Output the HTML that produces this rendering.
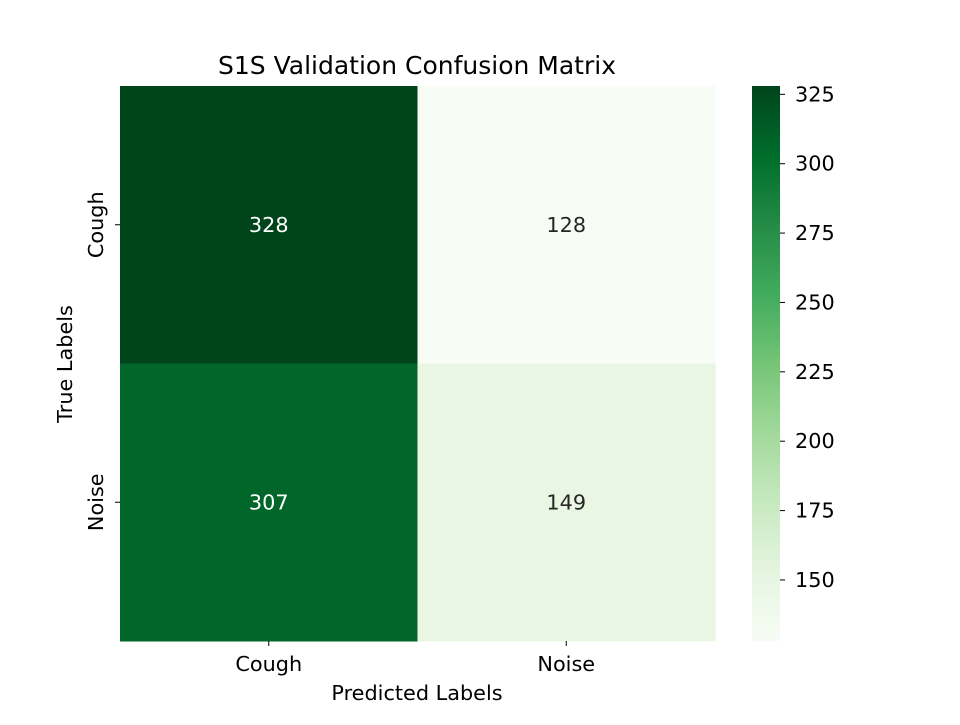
<!DOCTYPE html>
<html><head><meta charset="utf-8"><style>
body{margin:0;background:#fff;font-family:"Liberation Sans","DejaVu Sans",sans-serif;}
svg text{font-family:"DejaVu Sans","Liberation Sans",sans-serif;}
</style></head><body>
<svg id="chart" width="960" height="720" xmlns="http://www.w3.org/2000/svg">
<defs><linearGradient id="cg" x1="0" y1="1" x2="0" y2="0">
<stop offset="0" stop-color="#f7fcf5"/><stop offset="0.125" stop-color="#e5f5e0"/><stop offset="0.25" stop-color="#c7e9c0"/><stop offset="0.375" stop-color="#a1d99b"/><stop offset="0.5" stop-color="#74c476"/><stop offset="0.625" stop-color="#41ab5d"/><stop offset="0.75" stop-color="#238b45"/><stop offset="0.875" stop-color="#006d2c"/><stop offset="1" stop-color="#00441b"/>
</linearGradient></defs>
<text x="417" y="74" font-size="25" text-anchor="middle" fill="#000">S1S Validation Confusion Matrix</text>
<g id="cells"></g>
<rect x="752" y="86" width="28" height="555" fill="url(#cg)"/>
<g id="axes"></g>
<text x="417" y="700" font-size="20.8" text-anchor="middle">Predicted Labels</text>
<text transform="translate(72,364) rotate(-90)" font-size="20.8" text-anchor="middle">True Labels</text>
</svg>
<script>
const predLabels=["Cough","Noise"];
const trueLabels=["Cough","Noise"];
const values=[[328,128],[307,149]];
const cbTicks=[150,175,200,225,250,275,300,325];
const NS="http://www.w3.org/2000/svg";
const vmin=Math.min(...values.flat()),vmax=Math.max(...values.flat());
const X0=120,X1=715,Y0=86,Y1=641,CB0=641,CB1=86;
const stops=["#f7fcf5","#e5f5e0","#c7e9c0","#a1d99b","#74c476","#41ab5d","#238b45","#006d2c","#00441b"].map(h=>[1,3,5].map(i=>parseInt(h.substr(i,2),16)));
function color(v){let t=(v-vmin)/(vmax-vmin);t=Math.max(0,Math.min(1,t))*8;const i=Math.min(7,Math.floor(t)),f=t-i;const c=stops[i].map((a,k)=>Math.round(a+(stops[i+1][k]-a)*f));return `rgb(${c})`;}
const cw=(X1-X0)/predLabels.length,ch=(Y1-Y0)/trueLabels.length;
const cells=document.getElementById('cells'),axes=document.getElementById('axes');
function el(tag,attrs,parent){const e=document.createElementNS(NS,tag);for(const k in attrs)e.setAttribute(k,attrs[k]);parent.appendChild(e);return e;}
values.forEach((row,r)=>row.forEach((v,c)=>{
 const rc=el('rect',{x:X0+c*cw,y:Y0+r*ch,width:cw+0.5,height:ch+0.5,fill:color(v)},cells);
 
 
 const t=el('text',{x:X0+(c+0.5)*cw,y:Y0+(r+0.5)*ch+7,'font-size':'20.8','text-anchor':'middle',fill:(v-vmin)/(vmax-vmin)>0.5?'#fff':'#262626'},cells);
 t.textContent=v;
 
 
}));
predLabels.forEach((l,i)=>{const x=X0+(i+0.5)*cw;
 el('line',{x1:x,x2:x,y1:Y1,y2:Y1+5,stroke:'#000'},axes);
 const t=el('text',{x:x,y:Y1+30,'font-size':'20.8','text-anchor':'middle'},axes);t.textContent=l;
 
 });
trueLabels.forEach((l,i)=>{const y=Y0+(i+0.5)*ch;
 el('line',{x1:X0-5,x2:X0,y1:y,y2:y,stroke:'#000'},axes);
 const t=el('text',{transform:`translate(${X0-17},${y}) rotate(-90)`,'font-size':'20.8','text-anchor':'middle'},axes);t.textContent=l;
 
 });
cbTicks.forEach(v=>{const y=CB0-(v-vmin)/(vmax-vmin)*(CB0-CB1);
 el('line',{x1:780,x2:785,y1:y,y2:y,stroke:'#000'},axes);
 const t=el('text',{x:795,y:y+7,'font-size':'20.8'},axes);t.textContent=v;
 
 });
</script>
</body></html>
